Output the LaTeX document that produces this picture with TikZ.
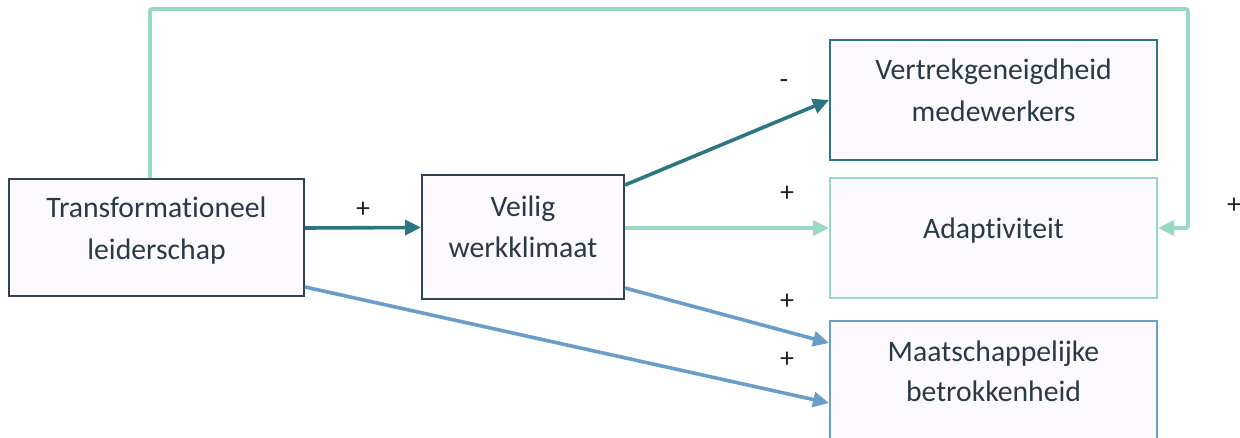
\documentclass[tikz,border=0pt]{standalone}
\usepackage{fontspec}
\setmainfont{Carlito}[Ligatures={NoCommon}]
\usetikzlibrary{arrows.meta}
\definecolor{dark}{HTML}{2F4450}
\definecolor{txt}{HTML}{283A46}
\definecolor{teal}{HTML}{2B7680}
\definecolor{mint}{HTML}{98D9C2}
\definecolor{blue}{HTML}{6B9DC9}
\definecolor{boxfill}{HTML}{FCFAFF}
\definecolor{signc}{HTML}{222222}
\tikzset{
  box/.style={draw=#1, line width=2pt, fill=boxfill, inner sep=0pt},
  lbl/.style={text=txt, font=\fontsize{29.7}{38}\selectfont, inner sep=0pt, anchor=base},
  conn/.style={draw=#1, line width=3.6pt, -{Triangle[length=16pt,width=15pt]}},
  sign/.style={font=\fontsize{28}{30}\selectfont, text=signc, inner sep=0pt}
}
\begin{document}
\begin{tikzpicture}[x=1pt,y=-1pt]
\useasboundingbox (0,0) rectangle (1240,438);
\clip (0,0) rectangle (1240,438);
\node[box=dark, minimum width=295pt, minimum height=117pt] (trans) at (156.5,237.5) {};
\node[box=dark, minimum width=202pt, minimum height=124pt] (veilig) at (523,237) {};
\node[box=teal, minimum width=327pt, minimum height=120pt] (vert) at (993.5,100) {};
\node[box=mint, minimum width=327pt, minimum height=120pt] (adapt) at (993.5,238) {};
\node[box=blue, minimum width=327pt, minimum height=120pt] (maats) at (993.5,381) {};
\node[lbl] (trans1) at (156.5,218) {Transformationeel};
\node[lbl] (trans2) at (156.5,259.5) {leiderschap};
\node[lbl] (veilig1) at (523,217) {Veilig};
\node[lbl] (veilig2) at (523,257.5) {werkklimaat};
\node[lbl] (vert1) at (993.5,80) {Vertrekgeneigdheid};
\node[lbl] (vert2) at (993.5,121.5) {medewerkers};
\node[lbl] (adapt1) at (993.5,238.5) {Adaptiviteit};
\node[lbl] (maats1) at (993.5,362) {Maatschappelijke};
\node[lbl] (maats2) at (993.5,401.5) {betrokkenheid};
\draw[conn=teal] ([yshift=9.5pt]trans.east) -- ([yshift=9.5pt]veilig.west);
\draw[conn=teal] ([yshift=-11pt]veilig.north east) -- (vert.west);
\draw[conn=mint] ([yshift=9pt]veilig.east) -- ([yshift=10pt]adapt.west);
\draw[conn=blue] ([yshift=12pt]veilig.south east) -- ([yshift=-23pt]maats.north west);
\draw[conn=blue] ([yshift=10pt]trans.south east) -- ([yshift=-22pt]maats.west);
\coordinate (tl) at (150,9);
\coordinate (tr) at (1188,9);
\draw[conn=mint, rounded corners=2pt] ([xshift=-6.5pt]trans.north) -- (tl) -- (tr) |- ([yshift=10pt]adapt.east);
\node[sign] (s1) at (363,209.5) {+};
\node[sign] (s2) at (784,84) {-};
\node[sign] (s3) at (787,194) {+};
\node[sign] (s4) at (787,302) {+};
\node[sign] (s5) at (787,360) {+};
\node[sign] (s6) at (1234,206) {+};
\end{tikzpicture}
\end{document}
